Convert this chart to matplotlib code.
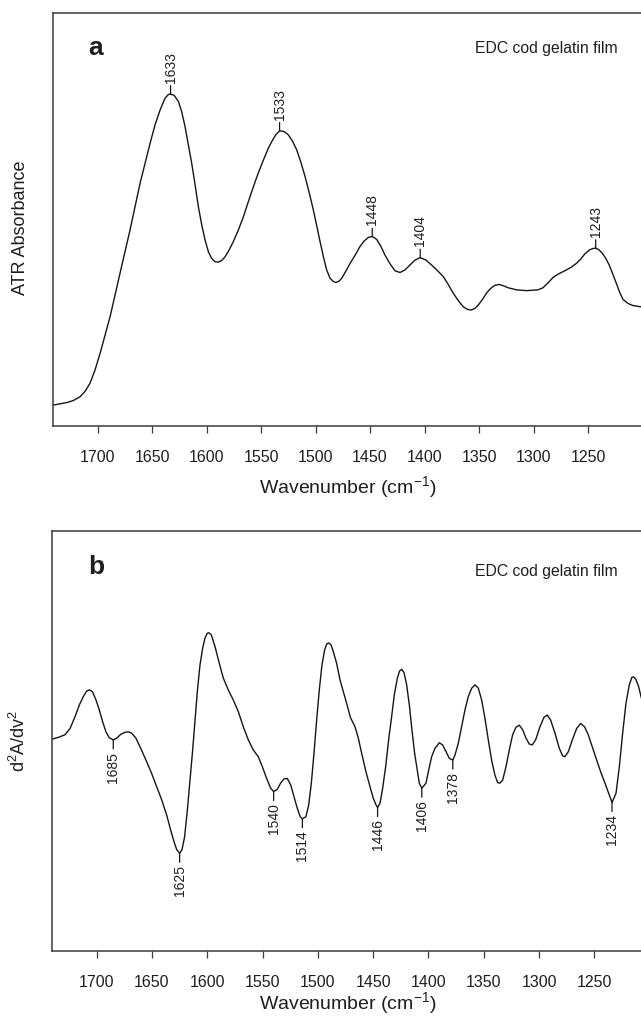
import numpy as np
import matplotlib
matplotlib.use("Agg")
import matplotlib.pyplot as plt

plt.rcParams['font.family'] = ['Liberation Sans', 'DejaVu Sans']
plt.rcParams['mathtext.fontset'] = 'custom'
plt.rcParams['mathtext.rm'] = 'Liberation Sans'
plt.rcParams['mathtext.it'] = 'Liberation Sans:italic'
plt.rcParams['mathtext.bf'] = 'Liberation Sans:bold'

# ---------------- data ----------------
top_wn = [1740.5, 1734.4, 1728.3, 1722.2, 1716.1, 1711.5, 1706.9, 1702.3, 1697.7, 1688.5,
          1679.4, 1670.2, 1661.0, 1651.8, 1647.3, 1642.7, 1638.1, 1635.0, 1633, 1629.8,
          1625.8, 1622.8, 1619.7, 1616.7, 1613.6, 1610.5, 1607.5, 1604.4, 1601.4, 1598.3,
          1595.3, 1592.2, 1589.2, 1586.1, 1583.0, 1579.4, 1575.4, 1570.8, 1566.2, 1561.6,
          1557.0, 1552.4, 1547.9, 1543.3, 1540.2, 1536.6, 1533, 1528.6, 1524.9, 1521.0,
          1517.3, 1513.6, 1509.6, 1505.7, 1502.0, 1498.9, 1495.9, 1492.8, 1489.8, 1486.7,
          1483.6, 1481.2, 1478.4, 1476.0, 1472.9, 1468.3, 1463.7, 1459.2, 1455.5, 1451.5,
          1448, 1443.9, 1440.2, 1436.3, 1431.7, 1427.1, 1422.5, 1418.0, 1413.4, 1408.8,
          1404, 1398.7, 1393.5, 1388.0, 1382.8, 1378.3, 1373.7, 1369.1, 1364.5, 1360.9,
          1357.5, 1353.8, 1350.8, 1346.8, 1343.2, 1339.5, 1335.5, 1331.6, 1327.9, 1323.3,
          1315.7, 1306.5, 1295.9, 1291.3, 1286.7, 1282.1, 1277.5, 1271.4, 1265.3, 1260.7,
          1256.2, 1253.0, 1248.5, 1245.5, 1243, 1240.0, 1236.8, 1233.7, 1230.6, 1227.3,
          1224.1, 1221.0, 1218.0, 1213.4, 1208.9, 1201.8, 1199]
top_abs = [0.050, 0.053, 0.056, 0.061, 0.070, 0.083, 0.103, 0.135, 0.175, 0.264,
           0.369, 0.474, 0.587, 0.684, 0.728, 0.764, 0.793, 0.802, 0.803, 0.800,
           0.785, 0.760, 0.724, 0.680, 0.635, 0.583, 0.530, 0.486, 0.450, 0.421,
           0.405, 0.397, 0.396, 0.400, 0.409, 0.425, 0.446, 0.474, 0.506, 0.543,
           0.579, 0.613, 0.643, 0.672, 0.688, 0.704, 0.714, 0.712, 0.704, 0.688,
           0.668, 0.639, 0.603, 0.563, 0.522, 0.484, 0.446, 0.409, 0.377, 0.357,
           0.349, 0.347, 0.350, 0.357, 0.371, 0.393, 0.413, 0.434, 0.447, 0.456,
           0.458, 0.451, 0.435, 0.413, 0.392, 0.375, 0.371, 0.377, 0.389, 0.401,
           0.407, 0.401, 0.389, 0.375, 0.361, 0.342, 0.321, 0.303, 0.288, 0.282,
           0.280, 0.284, 0.292, 0.306, 0.321, 0.332, 0.340, 0.342, 0.339, 0.334,
           0.329, 0.327, 0.329, 0.334, 0.346, 0.359, 0.367, 0.375, 0.384, 0.393,
           0.405, 0.416, 0.426, 0.429, 0.430, 0.426, 0.417, 0.405, 0.389, 0.367,
           0.345, 0.323, 0.306, 0.296, 0.291, 0.288, 0.287]
top_peaks = [1633, 1533, 1448, 1404, 1243]

bot_wn = [1739.8, 1734.7, 1728.7, 1724.1, 1719.6, 1715.7, 1712.1, 1709.1, 1706.7, 1703.9,
          1700.6, 1697.6, 1694.6, 1691.6, 1688.6, 1685, 1681.9, 1678.3, 1674.4, 1671.4,
          1668.4, 1664.5, 1660.2, 1654.8, 1650.3, 1645.8, 1641.2, 1636.7, 1633.1, 1630.1,
          1627.7, 1625, 1622.9, 1620.5, 1618.0, 1615.6, 1613.2, 1611.1, 1609.0, 1606.6,
          1604.2, 1602.1, 1600.0, 1598.5, 1596.3, 1593.0, 1589.1, 1585.5, 1581.0, 1576.5,
          1571.9, 1567.4, 1562.9, 1558.4, 1553.9, 1550.2, 1546.3, 1542.7, 1540, 1536.7,
          1533.7, 1530.6, 1527.6, 1524.6, 1521.6, 1518.6, 1516.0, 1514, 1510.8, 1508.3,
          1505.9, 1503.5, 1501.1, 1498.7, 1496.3, 1493.9, 1492.1, 1490.2, 1488.1, 1486.0,
          1483.0, 1480.0, 1477.0, 1474.0, 1470.5, 1466.4, 1463.4, 1460.4, 1456.5, 1452.9,
          1449.9, 1447.4, 1446, 1443.8, 1441.4, 1438.7, 1436.0, 1433.3, 1430.9, 1428.2,
          1426.1, 1424.2, 1422.1, 1419.7, 1417.3, 1414.9, 1412.5, 1410.1, 1408.3, 1406,
          1402.2, 1399.8, 1397.1, 1394.1, 1390.2, 1387.2, 1384.2, 1381.1, 1378, 1376.0,
          1373.0, 1370.0, 1367.0, 1364.0, 1360.9, 1357.9, 1354.9, 1351.9, 1348.9, 1345.9,
          1342.9, 1339.9, 1337.4, 1335.3, 1332.9, 1329.9, 1326.9, 1323.9, 1320.9, 1317.9,
          1314.8, 1311.8, 1308.8, 1306.1, 1303.1, 1299.2, 1295.5, 1292.5, 1289.5, 1285.6,
          1281.7, 1278.7, 1276.6, 1273.5, 1269.9, 1266.0, 1262.4, 1258.8, 1255.5, 1251.5,
          1247.9, 1244.3, 1240.4, 1236.5, 1234, 1230.4, 1227.4, 1224.4, 1221.4, 1218.4,
          1216.0, 1214.5, 1212.4, 1210.0, 1207.8, 1205]
bot_d2 = [0.504, 0.508, 0.514, 0.529, 0.557, 0.585, 0.605, 0.618, 0.621, 0.617,
          0.597, 0.573, 0.545, 0.521, 0.507, 0.502, 0.506, 0.515, 0.520, 0.521,
          0.518, 0.506, 0.482, 0.450, 0.422, 0.391, 0.359, 0.323, 0.287, 0.260,
          0.241, 0.232, 0.240, 0.271, 0.335, 0.406, 0.478, 0.549, 0.617, 0.680,
          0.720, 0.744, 0.756, 0.757, 0.752, 0.724, 0.684, 0.649, 0.621, 0.597,
          0.569, 0.533, 0.502, 0.478, 0.462, 0.438, 0.410, 0.387, 0.379, 0.384,
          0.399, 0.409, 0.410, 0.395, 0.367, 0.339, 0.319, 0.314, 0.319, 0.347,
          0.399, 0.470, 0.549, 0.621, 0.680, 0.716, 0.730, 0.733, 0.728, 0.712,
          0.684, 0.645, 0.617, 0.589, 0.555, 0.533, 0.506, 0.470, 0.426, 0.391,
          0.363, 0.347, 0.341, 0.351, 0.387, 0.438, 0.502, 0.557, 0.609, 0.648,
          0.666, 0.670, 0.662, 0.633, 0.585, 0.525, 0.470, 0.430, 0.399, 0.387,
          0.399, 0.430, 0.462, 0.482, 0.495, 0.490, 0.474, 0.458, 0.454, 0.466,
          0.494, 0.533, 0.573, 0.605, 0.625, 0.633, 0.625, 0.597, 0.553, 0.502,
          0.454, 0.418, 0.400, 0.399, 0.406, 0.438, 0.478, 0.514, 0.532, 0.537,
          0.526, 0.506, 0.492, 0.490, 0.502, 0.533, 0.556, 0.561, 0.549, 0.518,
          0.482, 0.464, 0.462, 0.474, 0.502, 0.529, 0.541, 0.533, 0.514, 0.482,
          0.454, 0.426, 0.399, 0.371, 0.353, 0.375, 0.438, 0.518, 0.589, 0.633,
          0.651, 0.652, 0.646, 0.629, 0.605, 0.580]
bot_minima = [1685, 1625, 1540, 1514, 1446, 1406, 1378, 1234]

xticks = [1700, 1650, 1600, 1550, 1500, 1450, 1400, 1350, 1300, 1250]
sample_name = "EDC cod gelatin film"

# ---------------- figure ----------------
W, H = 641, 1018
fig = plt.figure(figsize=(W / 100, H / 100), dpi=100)

spine_col = '#3a3a3a'
line_col = '#151515'
text_col = '#1e1e1e'


def px_axes(left, top, right, bottom):
    return fig.add_axes([left / W, 1 - bottom / H, (right - left) / W, (bottom - top) / H])


ax1 = px_axes(53.3, 12.7, 643, 425.7)
ax2 = px_axes(52.0, 530.7, 643, 950.7)


def style(ax, xlim, tickpad, labelpad):
    ax.set_xlim(*xlim)
    ax.set_ylim(0, 1)
    ax.set_yticks([])
    ax.set_xticks(xticks)
    ax.set_xticklabels([str(t) for t in xticks])
    ax.tick_params(axis='x', direction='out', length=4.8, width=0.9, color=spine_col,
                   labelsize=11.5, pad=tickpad, labelcolor=text_col)
    for s in ax.spines.values():
        s.set_color(spine_col)
        s.set_linewidth(1.1)
    ax.set_xlabel(r'Wavenumber (cm$^{-1}$)', fontsize=14, color=text_col, labelpad=labelpad)


style(ax1, (1740.6, 1199.6), 13, 6)
style(ax2, (1740.4, 1206.0), 12.5, 0.5)

ax1.plot(top_wn, top_abs, color=line_col, lw=1.0)
ax2.plot(bot_wn, bot_d2, color=line_col, lw=1.0)

ax1.set_ylabel('ATR Absorbance', fontsize=13, color=text_col)
ax2.set_ylabel('d$^2$A/dv$^2$', fontsize=13, color=text_col)
ax1.yaxis.set_label_coords(-0.041, 0.48)
ax2.yaxis.set_label_coords(-0.039, 0.5)

ax1.text(0.060, 0.915, 'a', transform=ax1.transAxes, fontsize=19, fontweight='bold',
         ha='left', va='center', color=text_col)
ax2.text(0.062, 0.913, 'b', transform=ax2.transAxes, fontsize=19, fontweight='bold',
         ha='left', va='center', color=text_col)
for ax, yy in ((ax1, 0.913), (ax2, 0.903)):
    ax.text(0.715, yy, sample_name, transform=ax.transAxes, fontsize=11.3,
            ha='left', va='center', color=text_col)

tw = np.array(top_wn)[::-1]
ta = np.array(top_abs)[::-1]
for p in top_peaks:
    yv = np.interp(p, tw, ta)
    ax1.annotate(str(p), xy=(p, yv), xytext=(0, 8), textcoords='offset points',
                 rotation=90, ha='center', va='bottom', fontsize=10, color=text_col,
                 arrowprops=dict(arrowstyle='-', lw=0.9, color=line_col,
                                 shrinkA=0, shrinkB=0))

bw = np.array(bot_wn)[::-1]
bd = np.array(bot_d2)[::-1]
for p in bot_minima:
    yv = np.interp(p, bw, bd)
    ax2.annotate(str(p), xy=(p, yv), xytext=(0, -8.5), textcoords='offset points',
                 rotation=90, ha='center', va='top', fontsize=10, color=text_col,
                 arrowprops=dict(arrowstyle='-', lw=0.9, color=line_col,
                                 shrinkA=0, shrinkB=0))

fig.savefig('out.png', dpi=100)
